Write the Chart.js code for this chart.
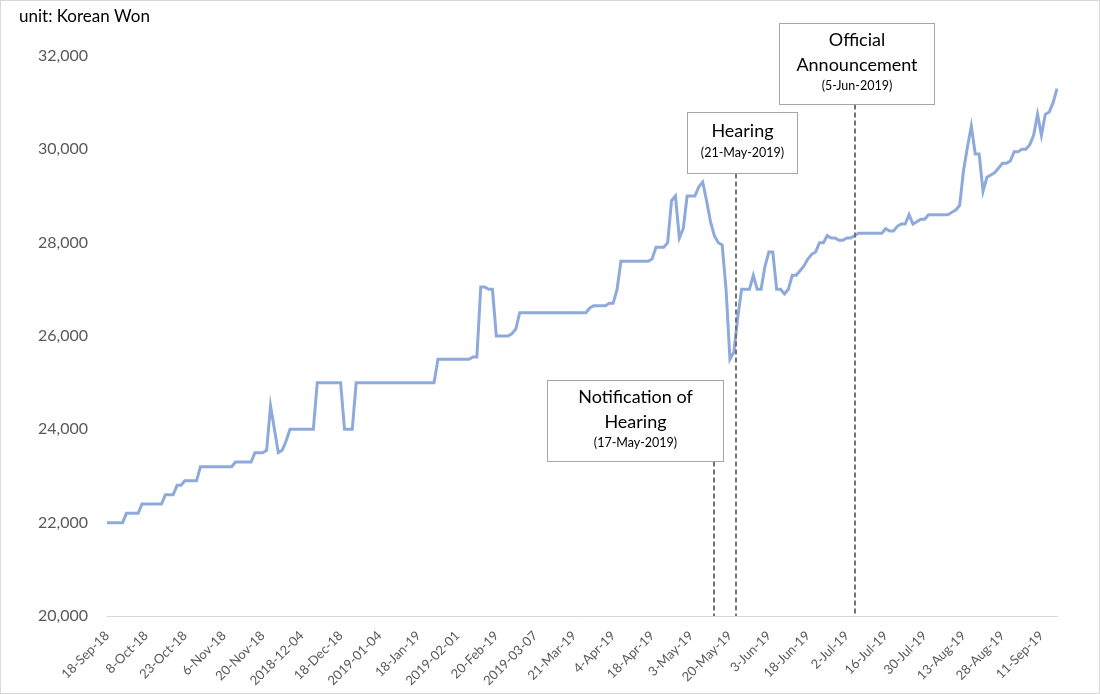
<!DOCTYPE html>
<html>
<head>
<meta charset="utf-8">
<script src="https://cdn.jsdelivr.net/npm/chart.js@4.4.1/dist/chart.umd.min.js"></script>
<style>
  html, body { margin: 0; padding: 0; background: #fff; }
  #wrap { width: 1100px; height: 694px; }
</style>
</head>
<body>
<div id="wrap"><canvas id="priceChart" width="1100" height="694"></canvas></div>
<script>
// x tick labels, one every 10 trading days
const tickLabels = [
    '18-Sep-18', '8-Oct-18', '23-Oct-18', '6-Nov-18', '20-Nov-18', '2018-12-04',
    '18-Dec-18', '2019-01-04', '18-Jan-19', '2019-02-01', '20-Feb-19', '2019-03-07',
    '21-Mar-19', '4-Apr-19', '18-Apr-19', '3-May-19', '20-May-19', '3-Jun-19',
    '18-Jun-19', '2-Jul-19', '16-Jul-19', '30-Jul-19', '13-Aug-19', '28-Aug-19', '11-Sep-19'
];
const labelEvery = 10;

// daily closing price (KRW)
const prices = [
    22000, 22000, 22000, 22000, 22000, 22200, 22200, 22200, 22200, 22400,
    22400, 22400, 22400, 22400, 22400, 22600, 22600, 22600, 22800, 22800,
    22900, 22900, 22900, 22900, 23200, 23200, 23200, 23200, 23200, 23200,
    23200, 23200, 23200, 23300, 23300, 23300, 23300, 23300, 23500, 23500,
    23500, 23550, 24500, 24000, 23500, 23550, 23750, 24000, 24000, 24000,
    24000, 24000, 24000, 24000, 25000, 25000, 25000, 25000, 25000, 25000,
    25000, 24000, 24000, 24000, 25000, 25000, 25000, 25000, 25000, 25000,
    25000, 25000, 25000, 25000, 25000, 25000, 25000, 25000, 25000, 25000,
    25000, 25000, 25000, 25000, 25000, 25500, 25500, 25500, 25500, 25500,
    25500, 25500, 25500, 25500, 25550, 25550, 27050, 27050, 27000, 27000,
    26000, 26000, 26000, 26000, 26050, 26150, 26500, 26500, 26500, 26500,
    26500, 26500, 26500, 26500, 26500, 26500, 26500, 26500, 26500, 26500,
    26500, 26500, 26500, 26500, 26600, 26650, 26650, 26650, 26650, 26700,
    26700, 27000, 27600, 27600, 27600, 27600, 27600, 27600, 27600, 27600,
    27650, 27900, 27900, 27900, 28000, 28900, 29000, 28100, 28300, 29000,
    29000, 29000, 29200, 29300, 28900, 28450, 28150, 28000, 27950, 27000,
    25500, 25650, 26400, 27000, 27000, 27000, 27300, 27000, 27000, 27500,
    27800, 27800, 27000, 27000, 26900, 27000, 27300, 27300, 27400, 27500,
    27650, 27750, 27800, 28000, 28000, 28150, 28100, 28100, 28050, 28050,
    28100, 28100, 28150, 28200, 28200, 28200, 28200, 28200, 28200, 28200,
    28300, 28250, 28250, 28350, 28400, 28400, 28600, 28400, 28450, 28500,
    28500, 28600, 28600, 28600, 28600, 28600, 28600, 28650, 28700, 28800,
    29550, 30050, 30500, 29900, 29900, 29100, 29400, 29450, 29500, 29600,
    29700, 29700, 29750, 29950, 29950, 30000, 30000, 30100, 30300, 30750,
    30300, 30750, 30800, 31000, 31300
];

const categories = prices.map((v, i) => (i % labelEvery === 0 ? tickLabels[i / labelEvery] : ''));

// event call-outs: x in category units, y in price units
const events = [
    { title: ['Notification of', 'Hearing'], date: '(17-May-2019)', at: 155.9, box: [113.0, 158.2, 25057, 23321] },
    { title: ['Hearing'], date: '(21-May-2019)', at: 161.5, box: [149.0, 177.2, 30800, 29493] },
    { title: ['Official', 'Announcement'], date: '(5-Jun-2019)', at: 192.1, box: [172.6, 212.4, 32707, 30971] }
];

const FONT = 'Lato, "Open Sans", sans-serif';

const calloutPlugin = {
    id: 'callouts',
    afterDatasetsDraw(chart) {
        const ctx = chart.ctx;
        const xs = chart.scales.x;
        const ys = chart.scales.y;
        const bottom = chart.chartArea.bottom;
        ctx.save();
        events.forEach(ev => {
            const x0 = Math.round(xs.getPixelForValue(ev.box[0])) + 0.5;
            const x1 = Math.round(xs.getPixelForValue(ev.box[1])) + 0.5;
            const y0 = Math.round(ys.getPixelForValue(ev.box[2])) + 0.5;
            const y1 = Math.round(ys.getPixelForValue(ev.box[3])) + 0.5;
            const lx = Math.round(xs.getPixelForValue(ev.at));

            // dashed drop line
            ctx.strokeStyle = '#737373';
            ctx.lineWidth = 2;
            ctx.setLineDash([5, 3]);
            ctx.beginPath();
            ctx.moveTo(lx, y1);
            ctx.lineTo(lx, bottom);
            ctx.stroke();
            ctx.setLineDash([]);

            // box
            ctx.fillStyle = '#ffffff';
            ctx.fillRect(x0, y0, x1 - x0, y1 - y0);
            ctx.strokeStyle = '#a6a6a6';
            ctx.lineWidth = 1;
            ctx.strokeRect(x0, y0, x1 - x0, y1 - y0);

            // text
            const cx = (x0 + x1) / 2;
            const lines = ev.title.length;
            const blockH = (lines - 1) * 25 + 21;
            let ty = (y0 + y1) / 2 - blockH / 2 - 1;
            ctx.textAlign = 'center';
            ctx.textBaseline = 'middle';
            ctx.fillStyle = '#000000';
            ctx.font = '18px ' + FONT;
            ev.title.forEach((t, i) => {
                ctx.fillText(t, cx, ty + i * 25);
            });
            ctx.font = '12.5px ' + FONT;
            ctx.fillText(ev.date, cx, ty + (lines - 1) * 25 + 21);
        });

        // unit note + outer frame
        ctx.textAlign = 'left';
        ctx.textBaseline = 'middle';
        ctx.fillStyle = '#000000';
        ctx.font = '17px ' + FONT;
        ctx.fillText('unit: Korean Won', 19, 17);
        ctx.strokeStyle = '#d9d9d9';
        ctx.lineWidth = 1;
        ctx.strokeRect(0.5, 0.5, chart.width - 1, chart.height - 1);
        ctx.restore();
    }
};

document.addEventListener('DOMContentLoaded', function() {
    const ctx = document.getElementById('priceChart').getContext('2d');
    new Chart(ctx, {
        type: 'line',
        data: {
            labels: categories,
            datasets: [{
                label: 'Price',
                data: prices,
                borderColor: '#8eaadb',
                borderWidth: 3,
                pointRadius: 0,
                tension: 0,
                fill: false
            }]
        },
        options: {
            responsive: false,
            animation: false,
            layout: { padding: { top: 56, right: 43, bottom: 0, left: 0 } },
            plugins: {
                legend: { display: false },
                tooltip: { enabled: false }
            },
            scales: {
                x: {
                    type: 'category',
                    offset: false,
                    grid: { display: false, drawTicks: false },
                    border: { display: true, color: '#d9d9d9', width: 1 },
                    ticks: {
                        autoSkip: false,
                        maxRotation: 45,
                        minRotation: 45,
                        padding: 12,
                        color: '#595959',
                        font: { family: FONT, size: 13 }
                    },
                    afterFit: function(scale) { scale.height = 78; }
                },
                y: {
                    min: 20000,
                    max: 32000,
                    grid: { display: false, drawTicks: false },
                    border: { display: false },
                    ticks: {
                        stepSize: 2000,
                        padding: 19,
                        color: '#595959',
                        font: { family: FONT, size: 16 },
                        callback: function(value) { return value.toLocaleString('en-US'); }
                    },
                    afterFit: function(scale) { scale.width = 107; }
                }
            }
        },
        plugins: [calloutPlugin]
    });
});
</script>
</body>
</html>
